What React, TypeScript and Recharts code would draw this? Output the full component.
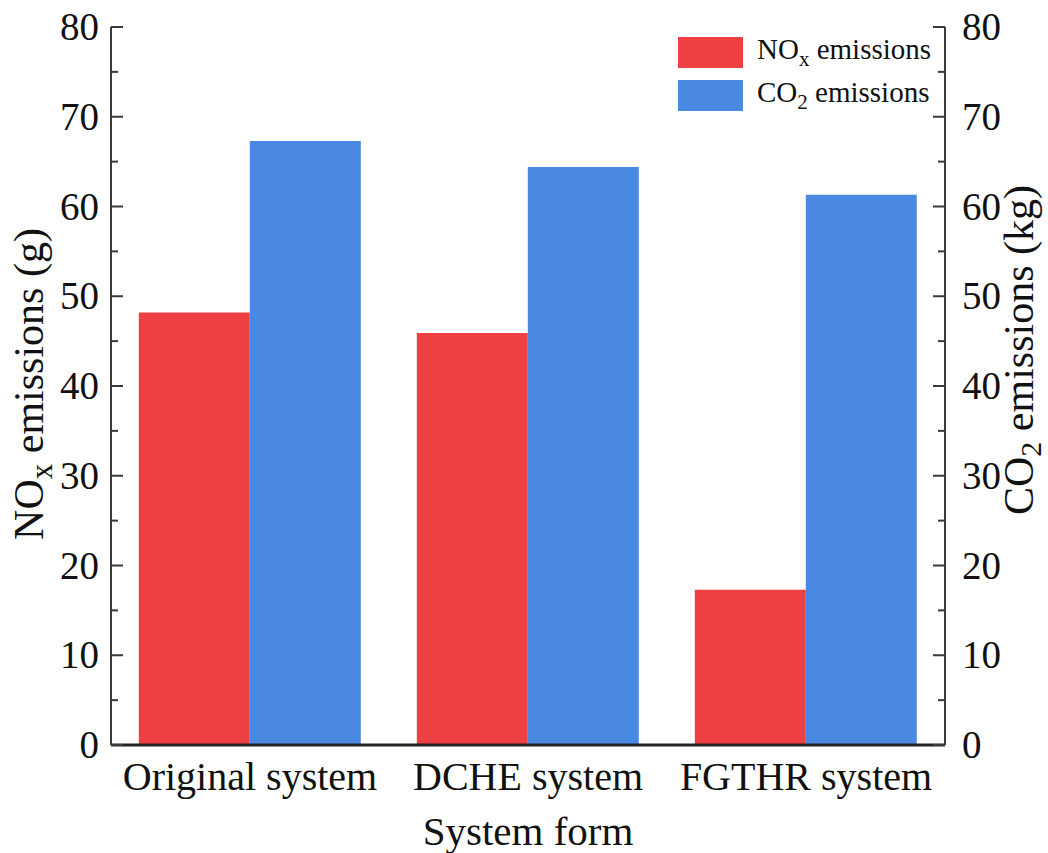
import { BarChart, Bar, XAxis, YAxis, Legend, Label } from "recharts";

const categories = ["Original system", "DCHE system", "FGTHR system"];
const noxValues = [48.2, 45.9, 17.3];
const co2Values = [67.3, 64.4, 61.3];
const yTicks = [0, 5, 10, 15, 20, 25, 30, 35, 40, 45, 50, 55, 60, 65, 70, 75, 80];

const RED = "#EE3F42";
const BLUE = "#4A89E2";
const AXIS = "#3a3a3a";
const FONT = "Liberation Serif, DejaVu Serif, Times New Roman, serif";

const data = categories.map((name, i) => ({
  name,
  nox: noxValues[i],
  co2: co2Values[i],
}));

const LeftTick = (props: any) => {
  const { x, y, payload } = props;
  const major = payload.value % 10 === 0;
  return (
    <g>
      <line x1={x} x2={x + (major ? 12 : 7)} y1={y} y2={y} stroke={AXIS} strokeWidth={2} />
      {major && (
        <text x={x - 12} y={y} dy={13} textAnchor="end" style={{ fontFamily: FONT }} fontSize={39} fill="#111">
          {payload.value}
        </text>
      )}
    </g>
  );
};

const RightTick = (props: any) => {
  const { x, y, payload } = props;
  const major = payload.value % 10 === 0;
  return (
    <g>
      <line x1={x} x2={x - (major ? 12 : 7)} y1={y} y2={y} stroke={AXIS} strokeWidth={2} />
      {major && (
        <text x={x + 17} y={y} dy={13} textAnchor="start" style={{ fontFamily: FONT }} fontSize={39} fill="#111">
          {payload.value}
        </text>
      )}
    </g>
  );
};

const BottomTick = (props: any) => {
  const { x, y, payload } = props;
  return (
    <text x={x} y={y + 45} textAnchor="middle" style={{ fontFamily: FONT }} fontSize={40} fill="#111">
      {payload.value}
    </text>
  );
};

const LeftTitle = (props: any) => {
  const vb = props.viewBox;
  const cx = 43;
  const cy = vb.y + vb.height / 2 - 2;
  return (
    <text
      x={cx}
      y={cy}
      transform={`rotate(-90, ${cx}, ${cy})`}
      textAnchor="middle"
      style={{ fontFamily: FONT }}
      fontSize={42}
      fill="#111"
    >
      <tspan>NO</tspan>
      <tspan dy={9} fontSize={31}>x</tspan>
      <tspan dy={-9}> emissions (g)</tspan>
    </text>
  );
};

const RightTitle = (props: any) => {
  const vb = props.viewBox;
  const cx = 1033;
  const cy = vb.y + vb.height / 2 - 36;
  return (
    <text
      x={cx}
      y={cy}
      transform={`rotate(-90, ${cx}, ${cy})`}
      textAnchor="middle"
      style={{ fontFamily: FONT }}
      fontSize={42}
      fill="#111"
    >
      <tspan>CO</tspan>
      <tspan dy={8} fontSize={30}>2</tspan>
      <tspan dy={-8}> emissions (kg)</tspan>
    </text>
  );
};

const BottomTitle = (props: any) => {
  const vb = props.viewBox;
  return (
    <text
      x={vb.x + vb.width / 2}
      y={vb.y + 100}
      textAnchor="middle"
      style={{ fontFamily: FONT }}
      fontSize={41}
      fill="#111"
    >
      System form
    </text>
  );
};

const legendItems = [
  { color: RED, main: "NO", sub: "x" },
  { color: BLUE, main: "CO", sub: "2" },
];

const LegendBox = () => (
  <div style={{ fontFamily: FONT, fontSize: 29, color: "#111" }}>
    {legendItems.map((it) => (
      <div key={it.main} style={{ display: "flex", alignItems: "center", height: 31, marginBottom: 12 }}>
        <div style={{ width: 65, height: 31, background: it.color, marginRight: 14 }} />
        <span style={{ lineHeight: 1, whiteSpace: "nowrap" }}>
          {it.main}
          <sub style={{ fontSize: 21 }}>{it.sub}</sub> emissions
        </span>
      </div>
    ))}
  </div>
);

export default function App() {
  return (
    <div style={{ position: "absolute", left: 0, top: 0, background: "#fff" }}>
      <BarChart
        width={1048}
        height={853}
        data={data}
        margin={{ top: 27, right: 0, left: 0, bottom: 0 }}
        barCategoryGap="10%"
        barGap={0}
      >
        <XAxis
          dataKey="name"
          height={108}
          tickLine={false}
          tickSize={0}
          tickMargin={0}
          tick={<BottomTick />}
          axisLine={{ stroke: "#222", strokeWidth: 3 }}
          interval={0}
        >
          <Label content={<BottomTitle />} />
        </XAxis>
        <XAxis
          xAxisId="top"
          orientation="top"
          dataKey="name"
          height={0}
          tick={false}
          tickLine={false}
          axisLine={{ stroke: AXIS, strokeWidth: 2 }}
        />
        <YAxis
          yAxisId="left"
          width={111}
          domain={[0, 80]}
          ticks={yTicks}
          interval={0}
          tickLine={false}
          tickSize={0}
          tickMargin={0}
          tick={<LeftTick />}
          axisLine={{ stroke: AXIS, strokeWidth: 2 }}
        >
          <Label content={<LeftTitle />} />
        </YAxis>
        <YAxis
          yAxisId="right"
          orientation="right"
          width={103}
          domain={[0, 80]}
          ticks={yTicks}
          interval={0}
          tickLine={false}
          tickSize={0}
          tickMargin={0}
          tick={<RightTick />}
          axisLine={{ stroke: AXIS, strokeWidth: 2 }}
        >
          <Label content={<RightTitle />} />
        </YAxis>
        <Legend
          layout="vertical"
          align="center"
          verticalAlign="middle"
          content={<LegendBox />}
          wrapperStyle={{ top: 37, left: 678, width: "auto", height: "auto" }}
        />
        <Bar yAxisId="left" dataKey="nox" fill={RED} isAnimationActive={false} />
        <Bar yAxisId="right" dataKey="co2" fill={BLUE} isAnimationActive={false} />
      </BarChart>
    </div>
  );
}
